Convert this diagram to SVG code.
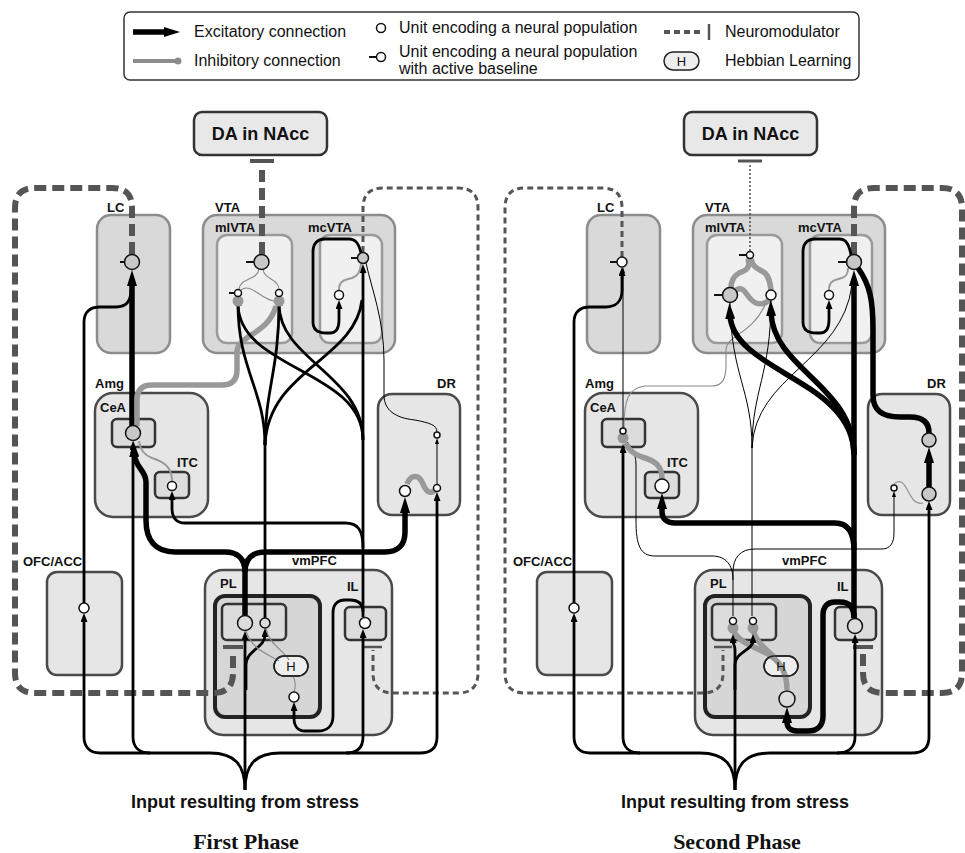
<svg xmlns="http://www.w3.org/2000/svg" width="965" height="853" viewBox="0 0 965 853">
<style>
.bg{fill:#fff}
.b1{fill:#d9d9d9;stroke:#8c8c8c;stroke-width:2.5}
.b2{fill:#f0f0f0;stroke:#9a9a9a;stroke-width:2.5}
.b3{fill:#e6e6e6;stroke:#4a4a4a;stroke-width:2.5}
.b4{fill:#dcdcdc;stroke:#333;stroke-width:2.5}
.b5{fill:#d6d6d6;stroke:#222;stroke-width:4}
.da{fill:#e8e8e8;stroke:#333;stroke-width:2.5}
.lbl{font-family:"Liberation Sans",Arial,sans-serif;font-weight:bold;font-size:13px;fill:#111}
.leg{font-family:"Liberation Sans",Arial,sans-serif;font-size:16px;fill:#111}
.big{font-family:"Liberation Sans",Arial,sans-serif;font-weight:bold;font-size:18px;fill:#111}
.ph{font-family:"Liberation Serif","Times New Roman",serif;font-weight:bold;font-size:22px;fill:#111}
.u{stroke:#111;stroke-width:1.5}
.uw{fill:#fff}
.ug{fill:#c8c8c8}
.ul{fill:#dcdcdc}
.tk{stroke:#111;stroke-width:2;fill:none}
.k1{fill:none;stroke:#000;stroke-width:1}
.k3{fill:none;stroke:#000;stroke-width:2.8}
.k5{fill:none;stroke:#000;stroke-width:5.5}
.g1{fill:none;stroke:#8a8a8a;stroke-width:1.1}
.g2{fill:none;stroke:#999;stroke-width:2}
.g5{fill:none;stroke:#999;stroke-width:5.5}
.bulb{fill:#999}
.nm6{fill:none;stroke:#555;stroke-width:6;stroke-dasharray:12 6}
.nm3{fill:none;stroke:#555;stroke-width:3;stroke-dasharray:6 4}
.dot{fill:none;stroke:#333;stroke-width:1.3;stroke-dasharray:2 2}
.bar{fill:none;stroke:#555}
.hb{fill:#eee;stroke:#222;stroke-width:1.5}
.ho{fill:none;stroke:#222;stroke-width:1.5}
.ht{font-family:"Liberation Sans",Arial,sans-serif;font-size:13px;fill:#111}
</style>
<defs>
<marker id="aL" viewBox="0 0 16 10" refX="4" refY="5" markerWidth="16" markerHeight="10" markerUnits="userSpaceOnUse" orient="auto"><path d="M0,0 L16,5 L0,10 z" fill="#000"/></marker>
<marker id="aM" viewBox="0 0 9 7" refX="2" refY="3.5" markerWidth="9" markerHeight="7" markerUnits="userSpaceOnUse" orient="auto"><path d="M0,0 L9,3.5 L0,7 z" fill="#000"/></marker>
<marker id="aS" viewBox="0 0 6 4" refX="1" refY="2" markerWidth="6" markerHeight="4" markerUnits="userSpaceOnUse" orient="auto"><path d="M0,0 L6,2 L0,4 z" fill="#000"/></marker>
</defs>
<rect class="bg" x="0" y="0" width="965" height="853"/>

<g id="legend">
<rect x="124" y="12" width="735" height="68" rx="6" fill="#fff" stroke="#333" stroke-width="1.5"/>
<path class="k5" d="M133 32 H168" stroke-width="4" marker-end="url(#aL)"/>
<text class="leg" x="194" y="37">Excitatory connection</text>
<path d="M133 61 H177" fill="none" stroke="#8c8c8c" stroke-width="4"/>
<circle cx="178" cy="61" r="3.5" fill="#8c8c8c"/>
<text class="leg" x="194" y="66">Inhibitory connection</text>
<circle class="u uw" cx="381" cy="28" r="4.5"/>
<text class="leg" x="399" y="33">Unit encoding a neural population</text>
<path class="tk" d="M369 57 H376.5"/>
<circle class="u uw" cx="381" cy="57" r="4.5"/>
<text class="leg" x="399" y="57">Unit encoding a neural population</text>
<text class="leg" x="399" y="74">with active baseline</text>
<path d="M664 32 H703" fill="none" stroke="#555" stroke-width="4" stroke-dasharray="6 4"/>
<path d="M709 24 V40" fill="none" stroke="#555" stroke-width="2.5"/>
<text class="leg" x="725" y="37">Neuromodulator</text>
<rect class="hb" x="664" y="52" width="35" height="18" rx="9"/>
<text class="ht" x="681.5" y="66" text-anchor="middle">H</text>
<text class="leg" x="725" y="66">Hebbian Learning</text>
</g>

<!-- ================= PHASE 1 ================= -->
<g id="phase1">
<g id="p1-da"><rect class="da" x="194" y="112" width="133" height="43" rx="8"/><text class="big" x="260.5" y="140" text-anchor="middle">DA in NAcc</text></g>
<g id="p1-lc"><rect class="b1" x="97" y="215" width="73" height="138" rx="14"/><text class="lbl" x="107" y="212">LC</text></g>
<g id="p1-vta"><rect class="b1" x="203" y="215" width="192" height="138" rx="14"/><text class="lbl" x="215" y="212">VTA</text></g>
<g id="p1-mlvta"><rect class="b2" x="217" y="235" width="75" height="108" rx="10"/><text class="lbl" x="215" y="232">mlVTA</text></g>
<g id="p1-mcvta"><rect class="b2" x="320" y="235" width="62" height="108" rx="10"/><text class="lbl" x="308" y="232">mcVTA</text></g>
<g id="p1-amg"><rect class="b3" x="95" y="393" width="113" height="124" rx="18"/><text class="lbl" x="95" y="388">Amg</text><text class="lbl" x="100" y="412">CeA</text></g>
<g id="p1-cea"><rect class="b4" x="112" y="419" width="43" height="28" rx="5"/></g>
<g id="p1-itc"><rect class="b4" x="155" y="472" width="34" height="26" rx="5"/><text class="lbl" x="177" y="467">ITC</text></g>
<g id="p1-dr"><rect class="b3" x="378" y="394" width="82" height="121" rx="14"/><text class="lbl" x="437" y="388">DR</text></g>
<g id="p1-ofc"><rect class="b3" x="47" y="572" width="75" height="103" rx="10"/><text class="lbl" x="23" y="566">OFC/ACC</text></g>
<g id="p1-vmpfc"><rect class="b3" x="205" y="570" width="187" height="165" rx="18"/><text class="lbl" x="292" y="565">vmPFC</text><text class="lbl" x="220" y="588">PL</text><text class="lbl" x="347" y="591">IL</text></g>
<g id="p1-pl"><rect class="b5" x="215" y="596" width="105" height="121" rx="10"/><rect class="b4" x="222" y="604" width="64" height="36" rx="5"/></g>
<g id="p1-il"><rect class="b4" x="345" y="607" width="41" height="33" rx="5"/></g>
<rect class="hb" x="274" y="656" width="34" height="20" rx="10"/>

<g id="p1-connectors">
<path class="k5" d="M132 426 L132 282" marker-end="url(#aL)"/>
<path class="k3" d="M84 603 L84 322 C84 312 90 307 100 307 L116 307 C126 307 131 301 131 290"/>
<path class="nm6" d="M132 254 L132 208 Q132 188 112 188 L35 188 Q15 188 15 208 L15 673 Q15 693 35 693 L213 693 Q233 693 233 673 L233 650"/>
<path class="bar" stroke-width="4" d="M223 647 H243"/>
<path class="nm3" d="M363 252 L363 208 Q363 188 383 188 L458 188 Q478 188 478 208 L478 673 Q478 693 458 693 L393 693 Q373 693 373 673 L373 650"/>
<path class="bar" stroke-width="2.5" d="M364 647 H382"/>
<path class="nm6" d="M262 254 L262 164"/>
<path class="bar" stroke-width="4" d="M250 161 H274"/>
<path class="g1" d="M259 269 C258 280 240 278 239 289"/>
<path class="g1" d="M263 269 C264 280 278 278 279 289"/>
<path class="g1" d="M241 290 C250 282 262 300 274 301"/>
<path class="g5" d="M137 426 L137 400 Q137 385 152 385 L222 385 Q237 385 237 370 L237 352 C237 335 268 335 276 306"/>
<path class="g2" d="M172 481 C172 468 165 462 152 458 C144 455 140 450 139 441"/>
<path class="k3" d="M265 618 L265 440"/>
<path class="k3" d="M265 445 C265 390 238 370 238 304" marker-end="url(#aM)"/>
<path class="k3" d="M265 445 C265 390 279 370 279 304" marker-end="url(#aM)"/>
<path class="k3" d="M265 445 C268 370 355 360 362 300"/>
<path class="k3" d="M363 617 L363 271" marker-end="url(#aM)"/>
<path class="k3" d="M363 440 C363 370 240 370 238 305"/>
<path class="k3" d="M363 440 C363 375 280 360 279 305"/>
<path class="k3" d="M363 548 C363 530 358 523 345 523 L185 523 C176 523 172 518 172 508 L172 498" marker-end="url(#aM)"/>
<path class="k3" d="M363 612 C363 603 358 600 350 600 L345 600 C337 600 333 605 333 613 L333 716 C333 726 327 731 318 731 L305 731 C298 731 294 726 294 718 L294 709" marker-end="url(#aM)"/>
<path class="k3" d="M361 253 C359 244 356 239 349 239 L325 239 C317 239 313 244 313 252 L313 322 C313 330 318 333 326 333 L330 333 C336 333 339 328 339 320 L339 307" marker-end="url(#aM)"/>
<path class="g2" d="M339 290 C339 280 345 280 352 278 C358 276 360 272 361 264"/>
<path class="k1" d="M366 263 C372 290 384 320 384 360 L384 395 C384 410 395 418 415 420 C430 423 437 425 437 432"/>
<path class="k1" d="M437 484 L437 443" marker-end="url(#aS)"/>
<path class="g5" d="M407 484 C411 474 419 474 423 484 C427 494 432 494 436 489"/>
<path class="k5" d="M245 615 L245 566"/>
<path class="k5" d="M245 572 C245 559 238 552 225 552 L175 552 C155 552 146 540 146 520 L146 482 C146 470 135 468 134 453" marker-end="url(#aL)"/>
<path class="k5" d="M245 572 C245 559 252 552 265 552 L385 552 C398 552 405 545 405 532 L405 509" marker-end="url(#aL)"/>
<path class="k3" d="M245 790 L245 638" marker-end="url(#aM)"/>
<path class="k3" d="M246 690 L246 665 C246 650 265 648 265 635" marker-end="url(#aM)"/>
<path class="k3" d="M245 790 C245 765 235 753 210 753 L100 753 C90 753 84 747 84 737 L84 620" marker-end="url(#aM)"/>
<path class="k3" d="M150 753 C139 753 133 747 133 737 L133 448" marker-end="url(#aM)"/>
<path class="k3" d="M245 790 C245 765 255 753 280 753 L420 753 C432 753 437 747 437 737 L437 499" marker-end="url(#aM)"/>
<path class="k3" d="M346 753 C358 753 363 747 363 737 L363 636" marker-end="url(#aM)"/>
<path class="g1" d="M246 631 C252 650 268 654 279 661"/>
<path class="g1" d="M266 628 C269 645 284 650 289 660"/>
<path class="g1" d="M293 676 C296 682 296 686 294 692"/>
</g>
<g id="p1-h"><rect class="ho" x="274" y="656" width="34" height="20" rx="10"/><text class="ht" x="291" y="671" text-anchor="middle">H</text></g>

<g id="p1-units">
<g id="p1-u-lc"><path class="tk" d="M120 262 H125"/><circle class="u ug" cx="132" cy="262" r="7.5"/></g>
<g id="p1-u-ml0"><path class="tk" d="M246 262 H254"/><circle class="u ug" cx="261.5" cy="262" r="7.5"/></g>
<g id="p1-u-ml1"><circle class="bulb" cx="238" cy="301" r="5.5"/><path class="tk" d="M229 293 H234.5"/><circle class="u uw" cx="238" cy="293" r="3.5"/></g>
<g id="p1-u-ml2"><circle class="bulb" cx="279" cy="301" r="5.5"/><circle class="u uw" cx="279" cy="293" r="3.5"/></g>
<g id="p1-u-mc"><path class="tk" d="M351 258 H357.5"/><circle class="u ug" cx="363" cy="258" r="5.5"/></g>
<g id="p1-u-mc2"><circle class="u uw" cx="339" cy="295" r="4.5"/></g>
<g id="p1-u-cea"><circle class="u ug" cx="133" cy="433" r="7.5"/></g>
<g id="p1-u-itc"><circle class="u uw" cx="172" cy="486" r="4.5"/></g>
<g id="p1-u-dr1"><circle class="u uw" cx="405" cy="491" r="5.5"/></g>
<g id="p1-u-dr2"><circle class="u uw" cx="437" cy="435" r="3"/></g>
<g id="p1-u-dr3"><circle class="u uw" cx="437" cy="488" r="3.5"/></g>
<g id="p1-u-ofc"><circle class="u uw" cx="84" cy="608" r="5"/></g>
<g id="p1-u-pl1"><circle class="u ul" cx="245" cy="623" r="7.5"/></g>
<g id="p1-u-pl2"><circle class="u ul" cx="265" cy="623" r="5"/></g>
<g id="p1-u-il"><circle class="u uw" cx="365" cy="623" r="5.5"/></g>
<g id="p1-u-pl3"><circle class="u uw" cx="294" cy="697" r="5"/></g>
</g>
<text class="big" x="245" y="808" text-anchor="middle">Input resulting from stress</text>
<text class="ph" x="246" y="849" text-anchor="middle">First Phase</text>
</g>

<!-- ================= PHASE 2 ================= -->
<g id="phase2" transform="translate(490,0)">
<g id="p2-da"><rect class="da" x="194" y="112" width="133" height="43" rx="8"/><text class="big" x="260.5" y="140" text-anchor="middle">DA in NAcc</text></g>
<g id="p2-lc"><rect class="b1" x="97" y="215" width="73" height="138" rx="14"/><text class="lbl" x="107" y="212">LC</text></g>
<g id="p2-vta"><rect class="b1" x="203" y="215" width="192" height="138" rx="14"/><text class="lbl" x="215" y="212">VTA</text></g>
<g id="p2-mlvta"><rect class="b2" x="217" y="235" width="75" height="108" rx="10"/><text class="lbl" x="215" y="232">mlVTA</text></g>
<g id="p2-mcvta"><rect class="b2" x="320" y="235" width="62" height="108" rx="10"/><text class="lbl" x="308" y="232">mcVTA</text></g>
<g id="p2-amg"><rect class="b3" x="95" y="393" width="113" height="124" rx="18"/><text class="lbl" x="95" y="388">Amg</text><text class="lbl" x="100" y="412">CeA</text></g>
<g id="p2-cea"><rect class="b4" x="112" y="419" width="43" height="28" rx="5"/></g>
<g id="p2-itc"><rect class="b4" x="155" y="472" width="34" height="26" rx="5"/><text class="lbl" x="177" y="467">ITC</text></g>
<g id="p2-dr"><rect class="b3" x="378" y="394" width="82" height="121" rx="14"/><text class="lbl" x="437" y="388">DR</text></g>
<g id="p2-ofc"><rect class="b3" x="47" y="572" width="75" height="103" rx="10"/><text class="lbl" x="23" y="566">OFC/ACC</text></g>
<g id="p2-vmpfc"><rect class="b3" x="205" y="570" width="187" height="165" rx="18"/><text class="lbl" x="292" y="565">vmPFC</text><text class="lbl" x="220" y="588">PL</text><text class="lbl" x="347" y="591">IL</text></g>
<g id="p2-pl"><rect class="b5" x="215" y="596" width="105" height="121" rx="10"/><rect class="b4" x="222" y="604" width="64" height="36" rx="5"/></g>
<g id="p2-il"><rect class="b4" x="345" y="607" width="41" height="33" rx="5"/></g>
<rect class="hb" x="274" y="656" width="34" height="20" rx="10"/>

<g id="p2-connectors">
<path class="nm3" d="M132 257 L132 208 Q132 188 112 188 L35 188 Q15 188 15 208 L15 673 Q15 693 35 693 L213 693 Q233 693 233 673 L233 650"/>
<path class="bar" stroke-width="2.5" d="M224 647 H242"/>
<path class="nm6" d="M364 254 L364 208 Q364 188 384 188 L452 188 Q472 188 472 208 L472 673 Q472 693 452 693 L393 693 Q373 693 373 673 L373 650"/>
<path class="bar" stroke-width="4" d="M363 647 H383"/>
<path class="dot" d="M260 251 L260 163"/>
<path class="bar" stroke-width="3" d="M248 161 H272"/>
<circle class="bulb" cx="260" cy="261" r="4.5"/>
<path class="g5" d="M259 262 C259 270 254 271 249 273 C244 276 241 280 241 288"/>
<path class="g5" d="M262 262 C264 269 270 269 275 273 C279 277 280 282 281 290"/>
<path class="g5" d="M246 290 C255 284 257 300 266 303 C271 305 276 303 279 300"/>
<path class="g1" d="M134 428 C134 400 138 388 155 386 L222 386 C233 386 236 378 236 365 L236 350 C236 335 262 335 276 303"/>
<path class="k1" d="M262 616 L262 445"/>
<path class="k1" d="M262 448 C262 390 241 375 240 303"/>
<path class="k1" d="M262 448 C262 390 281 375 281 300"/>
<path class="k1" d="M262 448 C265 375 352 362 362 285"/>
<path class="k5" stroke-width="6" d="M364 618 L364 282" marker-end="url(#aL)"/>
<path class="k5" stroke-width="6" d="M364 455 C364 380 243 372 240 315" marker-end="url(#aL)"/>
<path class="k5" stroke-width="6" d="M364 455 C364 385 283 370 281 312" marker-end="url(#aL)"/>
<path class="k5" stroke-width="6" d="M368 268 C380 285 383 300 383 330 L383 395 C383 410 392 417 410 417 L420 417 C432 417 439 422 439 433"/>
<path class="k5" d="M439 487 L439 459" marker-end="url(#aL)"/>
<path class="g1" d="M433 503 C420 506 418 484 411 482 C407 481 404 483 404 485"/>
<path class="k1" d="M243 616 L243 572 C243 558 250 549 265 549 L392 549 C400 549 404 543 404 533 L404 496" marker-end="url(#aS)"/>
<path class="k1" d="M243 580 C243 565 236 556 222 556 L165 556 C150 556 146 545 146 520 L146 465 C146 452 140 446 137 442"/>
<path class="k5" stroke-width="6" d="M364 550 C364 532 358 523 345 523 L185 523 C176 523 172 518 172 512 L172 505" marker-end="url(#aL)"/>
<path class="g5" d="M172 479 C172 466 166 461 152 457 C143 454 138 450 136 443"/>
<path class="k5" stroke-width="6" d="M364 618 C364 606 358 602 350 602 L345 602 C337 602 333 607 333 615 L333 716 C333 726 327 731 318 731 L307 731 C300 731 297 727 297 722 L297 719" marker-end="url(#aL)"/>
<path class="g5" d="M243 630 C250 645 270 648 281 656 C291 663 297 673 297 690"/>
<path class="g5" d="M263 630 C266 642 275 648 284 657"/>
<path class="k3" d="M361 255 C359 244 356 239 349 239 L325 239 C317 239 313 244 313 252 L313 322 C313 330 318 333 326 333 L330 333 C336 333 339 328 339 320 L339 307" marker-end="url(#aM)"/>
<path class="g2" d="M339 290 C339 280 345 280 352 278 C357 276 358 273 358 268"/>
<path class="k1" d="M133 428 L133 272" marker-end="url(#aS)"/>
<path class="k3" d="M84 603 L84 322 C84 312 90 307 100 307 L116 307 C126 307 132 301 132 290 L132 274" marker-end="url(#aM)"/>
<path class="k3" d="M245 790 L245 650 C245 645 243 644 243 641" marker-end="url(#aM)"/>
<path class="k3" d="M245 690 L245 665 C245 652 263 650 263 641" marker-end="url(#aM)"/>
<path class="k3" d="M245 790 C245 765 235 753 210 753 L100 753 C90 753 84 747 84 737 L84 620" marker-end="url(#aM)"/>
<path class="k3" d="M150 753 C139 753 133 747 133 737 L133 451" marker-end="url(#aM)"/>
<path class="k3" d="M245 790 C245 765 255 753 280 753 L422 753 C434 753 439 747 439 737 L439 508" marker-end="url(#aM)"/>
<path class="k3" d="M347 753 C359 753 365 747 365 737 L365 641" marker-end="url(#aM)"/>
</g>
<g id="p2-h"><rect class="ho" x="274" y="656" width="34" height="20" rx="10"/><text class="ht" x="291" y="671" text-anchor="middle">H</text></g>

<g id="p2-units">
<g id="p2-u-lc"><path class="tk" d="M120 262 H127"/><circle class="u uw" cx="132" cy="262" r="5"/></g>
<g id="p2-u-ml0"><path class="tk" d="M249 255 H256.5"/><circle class="u uw" cx="260" cy="255" r="3.5"/></g>
<g id="p2-u-ml1"><path class="tk" d="M224 295 H232.5"/><circle class="u ug" cx="240" cy="295" r="7.5"/></g>
<g id="p2-u-ml2"><circle class="u uw" cx="281" cy="295" r="5"/></g>
<g id="p2-u-mc"><path class="tk" d="M348 262 H356.5"/><circle class="u ug" cx="364" cy="262" r="7.5"/></g>
<g id="p2-u-mc2"><circle class="u uw" cx="339" cy="295" r="4.5"/></g>
<g id="p2-u-cea"><circle class="bulb" cx="133" cy="438" r="5.5"/><circle class="u uw" cx="133" cy="431" r="3"/></g>
<g id="p2-u-itc"><circle class="u uw" cx="172" cy="486" r="7"/></g>
<g id="p2-u-dr1"><circle class="u ug" cx="439" cy="440" r="7"/></g>
<g id="p2-u-dr2"><circle class="u ug" cx="439" cy="494" r="7"/></g>
<g id="p2-u-dr3"><circle class="u uw" cx="404" cy="488" r="3"/></g>
<g id="p2-u-ofc"><circle class="u uw" cx="84" cy="608" r="5"/></g>
<g id="p2-u-pl1"><circle class="bulb" cx="243" cy="628" r="5.5"/><circle class="u uw" cx="243" cy="621" r="3.5"/></g>
<g id="p2-u-pl2"><circle class="bulb" cx="263" cy="628" r="5.5"/><circle class="u uw" cx="263" cy="621" r="3.5"/></g>
<g id="p2-u-il"><circle class="u ul" cx="365" cy="626" r="7.5"/></g>
<g id="p2-u-pl3"><circle class="u ul" cx="297" cy="699" r="8"/></g>
</g>
<text class="big" x="245" y="808" text-anchor="middle">Input resulting from stress</text>
<text class="ph" x="247" y="849" text-anchor="middle">Second Phase</text>
</g>
</svg>
